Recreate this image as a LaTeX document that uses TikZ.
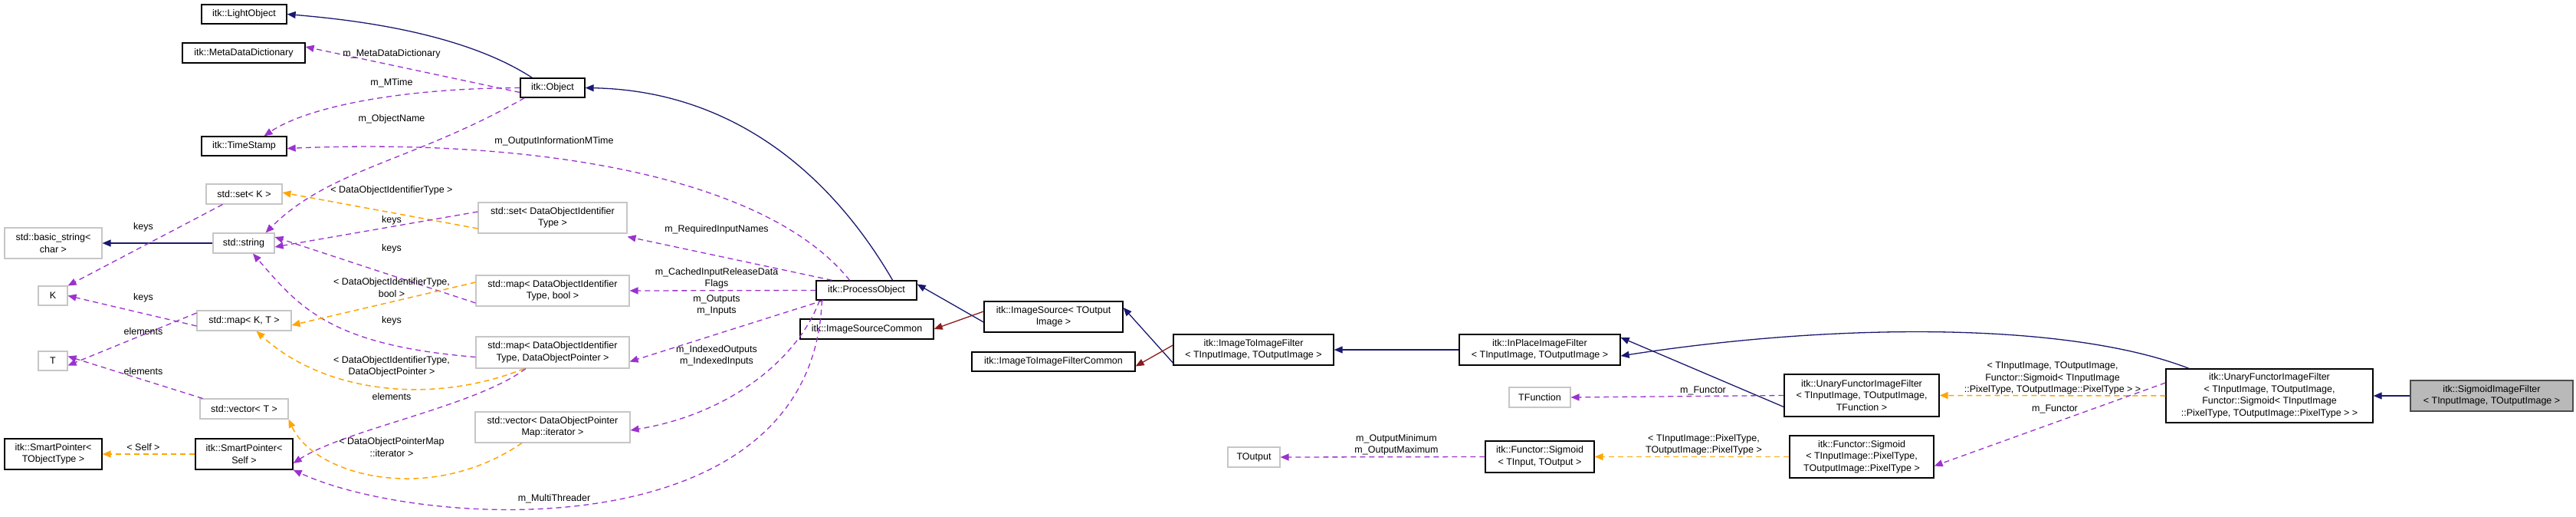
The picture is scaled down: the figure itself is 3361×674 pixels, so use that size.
\documentclass[tikz,border=0pt]{standalone}
\usepackage{fontspec}
\setmainfont{Liberation Sans}
\usetikzlibrary{arrows.meta}
\definecolor{navy}{HTML}{191970}
\definecolor{purp}{HTML}{9A32CD}
\definecolor{orng}{HTML}{FFA500}
\definecolor{dred}{HTML}{8B1A1A}
\begin{document}
\begin{tikzpicture}[x=1pt,y=-1pt,
  base/.style={rectangle,inner sep=0pt,align=center,font=\fontsize{12.5}{15.5}\selectfont,fill=white},
  cls/.style={base,draw=black,line width=1.3pt},
  ext/.style={base,draw=gray!45,line width=1.1pt},
  cur/.style={base,draw=black!70,line width=1.3pt,fill=gray!55},
  tip/.style={-{Triangle[length=11pt,width=9pt]}},
  inh/.style={tip,draw=navy,line width=1.3pt},
  priv/.style={tip,draw=dred,line width=1.3pt},
  use/.style={tip,draw=purp,line width=1.3pt,dash pattern=on 7pt off 5pt},
  tmpl/.style={tip,draw=orng,line width=1.5pt,dash pattern=on 7pt off 5pt},
  lbl/.style={font=\fontsize{12.5}{15.5}\selectfont,align=center,inner sep=1pt}]
\useasboundingbox (0,0) rectangle (3361,674);
% nodes
\node[cls,minimum width=111,minimum height=25] (LO) at (318.5,18.5) {itk::LightObject};
\node[cls,minimum width=160,minimum height=26] (MD) at (318,69) {itk::MetaDataDictionary};
\node[cls,minimum width=84,minimum height=25] (OB) at (721,114.5) {itk::Object};
\node[cls,minimum width=111,minimum height=25] (TS) at (318.5,190.5) {itk::TimeStamp};
\node[ext,minimum width=99,minimum height=26] (SK) at (318.5,253) {std::set< K >};
\node[ext,minimum width=127,minimum height=40] (BS) at (69.5,317) {std::basic\_string<\\char >};
\node[ext,minimum width=80,minimum height=26] (ST) at (318,317) {std::string};
\node[ext,minimum width=194,minimum height=40] (SD) at (721,284) {std::set< DataObjectIdentifier\\Type >};
\node[ext,minimum width=38,minimum height=25] (K) at (69,385.5) {K};
\node[ext,minimum width=200,minimum height=40] (MB) at (721,379) {std::map< DataObjectIdentifier\\Type, bool >};
\node[ext,minimum width=123,minimum height=26] (MKT) at (318.5,418) {std::map< K, T >};
\node[ext,minimum width=38,minimum height=25] (T) at (69,470.5) {T};
\node[ext,minimum width=200,minimum height=41] (MP) at (721,459.5) {std::map< DataObjectIdentifier\\Type, DataObjectPointer >};
\node[ext,minimum width=115,minimum height=26] (VT) at (318.5,533) {std::vector< T >};
\node[cls,minimum width=127,minimum height=40] (SPT) at (69.5,592) {itk::SmartPointer<\\TObjectType >};
\node[cls,minimum width=127,minimum height=40] (SPS) at (318.5,592) {itk::SmartPointer<\\Self >};
\node[ext,minimum width=202,minimum height=40] (VD) at (721,557) {std::vector< DataObjectPointer\\Map::iterator >};
\node[cls,minimum width=131,minimum height=25] (PO) at (1130.5,378.5) {itk::ProcessObject};
\node[cls,minimum width=174,minimum height=26] (ISC) at (1131,429) {itk::ImageSourceCommon};
\node[cls,minimum width=181,minimum height=40] (IS) at (1374.5,413) {itk::ImageSource< TOutput\\Image >};
\node[cls,minimum width=213,minimum height=25] (ITC) at (1374.5,471.5) {itk::ImageToImageFilterCommon};
\node[cls,minimum width=209,minimum height=40] (ITI) at (1635.5,456) {itk::ImageToImageFilter\\< TInputImage, TOutputImage >};
\node[cls,minimum width=210,minimum height=40] (IP) at (2009,456) {itk::InPlaceImageFilter\\< TInputImage, TOutputImage >};
\node[ext,minimum width=80,minimum height=26] (TF) at (2009,518) {TFunction};
\node[ext,minimum width=68,minimum height=26] (TO) at (1636,596) {TOutput};
\node[cls,minimum width=142,minimum height=41] (FS) at (2009,595.5) {itk::Functor::Sigmoid\\< TInput, TOutput >};
\node[cls,minimum width=202,minimum height=55] (UT) at (2429,515.5) {itk::UnaryFunctorImageFilter\\< TInputImage, TOutputImage,\\TFunction >};
\node[cls,minimum width=270,minimum height=70] (US) at (2961,516) {itk::UnaryFunctorImageFilter\\< TInputImage, TOutputImage,\\Functor::Sigmoid< TInputImage\\::PixelType, TOutputImage::PixelType > >};
\node[cur,minimum width=212,minimum height=40] (SF) at (3251,516) {itk::SigmoidImageFilter\\< TInputImage, TOutputImage >};
\node[cls,minimum width=188,minimum height=55] (FP) at (2429,595.5) {itk::Functor::Sigmoid\\< TInputImage::PixelType,\\TOutputImage::PixelType >};
% edges
\draw[inh] ([xshift=16]OB.north west) .. controls (600,40) and (450,25) .. (LO.east);
\draw[inh] ([xshift=-32]PO.north east) .. controls (1080,220) and (950,118) .. (OB.east);
\draw[use] ([yshift=-6]OB.west) -- ([yshift=8]MD.east);
\draw[use] (OB.west) .. controls (520,115) and (400,140) .. ([xshift=26]TS.north);
\draw[use] ([xshift=6]OB.south west) .. controls (540,210) and (430,220) .. ([xshift=-12]ST.north east);
\draw[use] ([xshift=-22]PO.north) .. controls (1000,230) and (700,180) .. ([yshift=-3]TS.east);
\draw[use] ([xshift=-45]PO.north) -- ([yshift=-4]SD.south east);
\draw[use] (PO.west) -- (MB.east);
\draw[use] ([xshift=10]PO.south west) -- ([yshift=-12]MP.east);
\draw[use] ([xshift=5]PO.south west) .. controls (1040,470) and (950,540) .. ([yshift=-4]VD.east);
\draw[use] ([xshift=8]PO.south west) .. controls (1060,720) and (550,690) .. (SPS.south east);
\draw[tmpl] ([yshift=-14]SD.west) -- ([yshift=2]SK.east);
\draw[use] ([yshift=8]SD.west) -- ([yshift=-5]ST.east);
\draw[use] ([yshift=-16]MB.west) -- ([yshift=8]ST.east);
\draw[use] ([yshift=-6]MP.west) .. controls (430,450) and (390,400) .. ([xshift=12]ST.south);
\draw[inh] (ST.west) -- (BS.east);
\draw[use] ([xshift=-28]SK.south) -- (K.north east);
\draw[use] ([yshift=-7]MKT.west) -- (K.east);
\draw[use] ([yshift=10]MKT.west) -- ([yshift=-6]T.east);
\draw[use] ([xshift=4]VT.north west) -- ([yshift=6]T.east);
\draw[tmpl] ([yshift=11]MB.west) -- ([yshift=-6]MKT.east);
\draw[tmpl] ([xshift=-37]MP.south) .. controls (560,530) and (420,510) .. ([xshift=16]MKT.south);
\draw[use] ([xshift=-35]MP.south) .. controls (620,530) and (450,560) .. ([yshift=-12]SPS.east);
\draw[tmpl] ([xshift=-40]VD.south) .. controls (560,660) and (410,620) .. (VT.south east);
\draw[tmpl] (SPS.west) -- (SPT.east);
\draw[inh] ([yshift=-7]IS.west) -- ([yshift=8]PO.east);
\draw[priv] ([yshift=7]IS.west) -- (ISC.east);
\draw[inh] ([yshift=-17]ITI.west) -- ([yshift=12]IS.east);
\draw[priv] ([yshift=6]ITI.west) -- ([yshift=-6]ITC.east);
\draw[inh] (IP.west) -- (ITI.east);
\draw[inh] ([yshift=-15]UT.west) -- ([yshift=16]IP.east);
\draw[inh] ([xshift=-105]US.north) .. controls (2700,420) and (2400,420) .. ([yshift=-8]IP.east);
\draw[use] (UT.west) -- (TF.east);
\draw[tmpl] (US.west) -- (UT.east);
\draw[use] ([yshift=17]US.west) -- ([yshift=-12]FP.east);
\draw[tmpl] (FP.west) -- (FS.east);
\draw[use] (FS.west) -- (TO.east);
\draw[inh] (SF.west) -- (US.east);
% labels
\node[lbl] (l1) at (511,70) {m\_MetaDataDictionary};
\node[lbl] (l2) at (511,108) {m\_MTime};
\node[lbl] (l3) at (511,155) {m\_ObjectName};
\node[lbl] (l4) at (723,184) {m\_OutputInformationMTime};
\node[lbl] (l5) at (511,248) {< DataObjectIdentifierType >};
\node[lbl] (l6) at (511,287) {keys};
\node[lbl] (l7) at (511,324) {keys};
\node[lbl] (l8) at (187,296) {keys};
\node[lbl] (l9) at (187,388) {keys};
\node[lbl] (l10) at (187,432) {elements};
\node[lbl] (l11) at (187,484) {elements};
\node[lbl] (l12) at (511,375) {< DataObjectIdentifierType,\\bool >};
\node[lbl] (l13) at (511,418) {keys};
\node[lbl] (l14) at (511,478) {< DataObjectIdentifierType,\\DataObjectPointer >};
\node[lbl] (l15) at (511,517) {elements};
\node[lbl] (l16) at (511,583) {< DataObjectPointerMap\\::iterator >};
\node[lbl] (l17) at (187,583) {< Self >};
\node[lbl] (l18) at (723,650) {m\_MultiThreader};
\node[lbl] (l19) at (935,299) {m\_RequiredInputNames};
\node[lbl] (l20) at (935,363) {m\_CachedInputReleaseData\\Flags};
\node[lbl] (l21) at (935,398) {m\_Outputs\\m\_Inputs};
\node[lbl] (l22) at (935,464) {m\_IndexedOutputs\\m\_IndexedInputs};
\node[lbl] (l23) at (2222,509) {m\_Functor};
\node[lbl] (l24) at (1822,580) {m\_OutputMinimum\\m\_OutputMaximum};
\node[lbl] (l25) at (2223,580) {< TInputImage::PixelType,\\TOutputImage::PixelType >};
\node[lbl] (l26) at (2678,493) {< TInputImage, TOutputImage,\\Functor::Sigmoid< TInputImage\\::PixelType, TOutputImage::PixelType > >};
\node[lbl] (l27) at (2681,533) {m\_Functor};
\end{tikzpicture}
\end{document}
